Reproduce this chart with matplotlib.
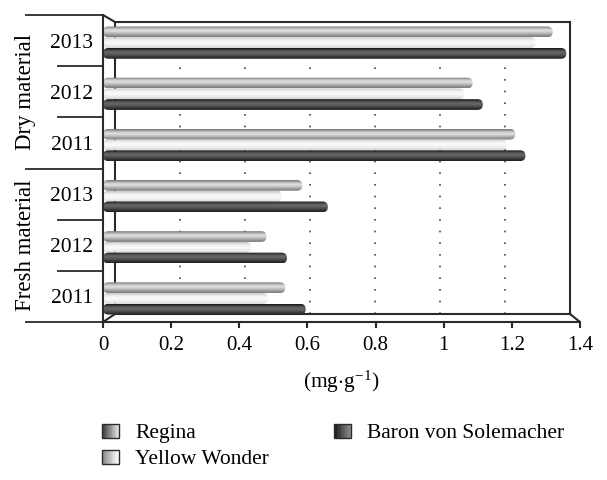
import numpy as np
import matplotlib
matplotlib.use("Agg")
import matplotlib.pyplot as plt
from matplotlib.colors import LinearSegmentedColormap
from matplotlib.patches import ConnectionPatch, Patch, Rectangle, FancyBboxPatch
from matplotlib.legend_handler import HandlerBase

# Données (ordre de haut en bas)
groups = ["Dry material", "Fresh material"]
years = ["2013", "2012", "2011", "2013", "2012", "2011"]
series = ["Regina", "Yellow Wonder", "Baron von Solemacher"]
regina = [1.32, 1.085, 1.21, 0.585, 0.48, 0.535]
yellow = [1.27, 1.06, 1.185, 0.525, 0.435, 0.485]
baron = [1.36, 1.115, 1.24, 0.66, 0.54, 0.595]
xticks = [0, 0.2, 0.4, 0.6, 0.8, 1.0, 1.2, 1.4]
xticklabels = ["0", "0.2", "0.4", "0.6", "0.8", "1", "1.2", "1.4"]

plt.rcParams["font.family"] = ["Liberation Serif", "DejaVu Serif"]
plt.rcParams["mathtext.fontset"] = "custom"
plt.rcParams["mathtext.rm"] = "Liberation Serif"
plt.rcParams["mathtext.it"] = "Liberation Serif:italic"

W, H = 607, 480
fig = plt.figure(figsize=(W / 100, H / 100), dpi=100)


def box(x0, y0, x1, y1):
    return [x0 / W, 1 - y1 / H, (x1 - x0) / W, (y1 - y0) / H]


dark = "#2a2a2a"

# Paroi du fond (effet 3D) avec grille pointillée
ax_back = fig.add_axes(box(115, 22, 570, 314))
ax_back.set_xlim(0, 1.4)
ax_back.set_ylim(0, 1)
ax_back.set_xticks(xticks[1:-1])
ax_back.set_yticks([])
ax_back.tick_params(length=0, labelbottom=False)
ax_back.grid(axis="x", color="#444444", linestyle=(0, (1, 6)), linewidth=1.2)
for s in ax_back.spines.values():
    s.set_color(dark)
    s.set_linewidth(1.5)

# Axe principal
ax = fig.add_axes(box(103, 15, 580, 322))
ax.set_facecolor("none")
ax.set_xlim(0, 1.4)
ax.set_ylim(len(years) - 0.5, -0.5)

cmaps = [
    LinearSegmentedColormap.from_list("reg", ["#6e6e6e", "#b8b8b8", "#e4e4e4", "#c6c6c6", "#9c9c9c", "#7a7a7a"]),
    LinearSegmentedColormap.from_list("yel", ["#c4c4c4", "#f0f0f0", "#fbfbfb", "#efefef", "#d4d4d4"]),
    LinearSegmentedColormap.from_list("bar", ["#0e0e0e", "#4c4c4c", "#6a6a6a", "#575757", "#393939", "#1e1e1e"]),
]
grad = np.linspace(0, 1, 64).reshape(-1, 1)
pos = np.arange(len(years)) + 0.04
offsets = [-0.21, 0.0, 0.21]
height = 0.21

# rapport px/unité pour arrondir les extrémités des cylindres
p = ax.transData.transform([[0, 0], [1, 1]])
aspect = abs(p[1, 0] - p[0, 0]) / abs(p[1, 1] - p[0, 1])

for vals, off, cmap in zip([regina, yellow, baron], offsets, cmaps):
    bars = ax.barh(pos + off, vals, height=height, color="none", edgecolor="none")
    for b in bars:
        x0, y0 = b.get_x(), b.get_y()
        w, hh = b.get_width(), b.get_height()
        r = hh / 2 / aspect
        cyl = FancyBboxPatch((x0, y0), w, hh,
                             boxstyle=f"round,pad=0,rounding_size={r}",
                             mutation_aspect=aspect, facecolor="none", edgecolor="none")
        ax.add_patch(cyl)
        im = ax.imshow(grad, cmap=cmap, aspect="auto", interpolation="bicubic",
                       extent=[x0, x0 + w, y0 + hh, y0], zorder=2)
        im.set_clip_path(cyl)

ax.set_xlim(0, 1.4)
ax.set_ylim(len(years) - 0.5, -0.5)
ax.set_xticks(xticks)
ax.set_xticklabels(xticklabels, fontsize=15)
ax.set_xlabel(r"(mg$\cdot$g$^{-1}$)", fontsize=15.5, labelpad=10)
ax.tick_params(axis="x", direction="out", length=4, width=1.5, color=dark, pad=6)

ax.set_yticks(np.arange(len(years)))
ax.set_yticklabels(years, fontsize=15.5)
ax.tick_params(axis="y", which="major", length=0, pad=7)
ax.set_yticks([0.5, 1.5, 3.5, 4.5], minor=True)
ax.tick_params(axis="y", which="minor", direction="out", length=33, width=1.3, color=dark)

for s in ["top", "right"]:
    ax.spines[s].set_visible(False)
for s in ["left", "bottom"]:
    ax.spines[s].set_color(dark)
    ax.spines[s].set_linewidth(1.5)

# Séparateurs des groupes
sec = ax.secondary_yaxis("left")
sec.set_yticks([-0.5, 2.5, 5.5])
sec.set_yticklabels([])
sec.tick_params(length=56, width=1.3, color=dark, direction="out")
sec.spines["left"].set_visible(False)

# Étiquettes des groupes
for g, yc in zip(groups, [1, 4]):
    ax.text(-0.163, yc, g, transform=ax.get_yaxis_transform(), rotation=90,
            ha="center", va="center", fontsize=16.5)

# Arêtes 3D
for a, b in [((0, 1), (0, 1)), ((0, 0), (0, 0)), ((1, 0), (1, 0))]:
    fig.add_artist(ConnectionPatch(xyA=a, coordsA=ax.transAxes, xyB=b, coordsB=ax_back.transAxes,
                                   color=dark, linewidth=1.5))


# Légende avec carrés en dégradé horizontal
class GradientHandler(HandlerBase):
    def __init__(self, c0, c1, n=12):
        super().__init__()
        self.cmap = LinearSegmentedColormap.from_list("lg", [c0, c1])
        self.n = n

    def create_artists(self, legend, orig_handle, xdescent, ydescent, width, height, fontsize, trans):
        arts = []
        for i in range(self.n):
            arts.append(Rectangle((-xdescent + i * width / self.n, -ydescent), width / self.n + 0.3, height,
                                  facecolor=self.cmap(i / (self.n - 1)), edgecolor="none", transform=trans))
        arts.append(Rectangle((-xdescent, -ydescent), width, height, facecolor="none",
                              edgecolor=dark, linewidth=1.0, transform=trans))
        return arts


handles = [Patch(), Patch(), Patch()]
hmap = {
    handles[0]: GradientHandler("#3c3c3c", "#e6e6e6"),
    handles[1]: GradientHandler("#8a8a8a", "#ffffff"),
    handles[2]: GradientHandler("#1a1a1a", "#8c8c8c"),
}
fig.legend(handles, series, handler_map=hmap, loc="upper left", bbox_to_anchor=(102 / W, 1 - 424 / H),
           ncol=2, frameon=False, fontsize=15.5, handlelength=0.8, handleheight=0.6, handletextpad=0.75,
           columnspacing=3.0, labelspacing=0.3, borderaxespad=0, borderpad=0)

plt.savefig("out.png", dpi=100)
